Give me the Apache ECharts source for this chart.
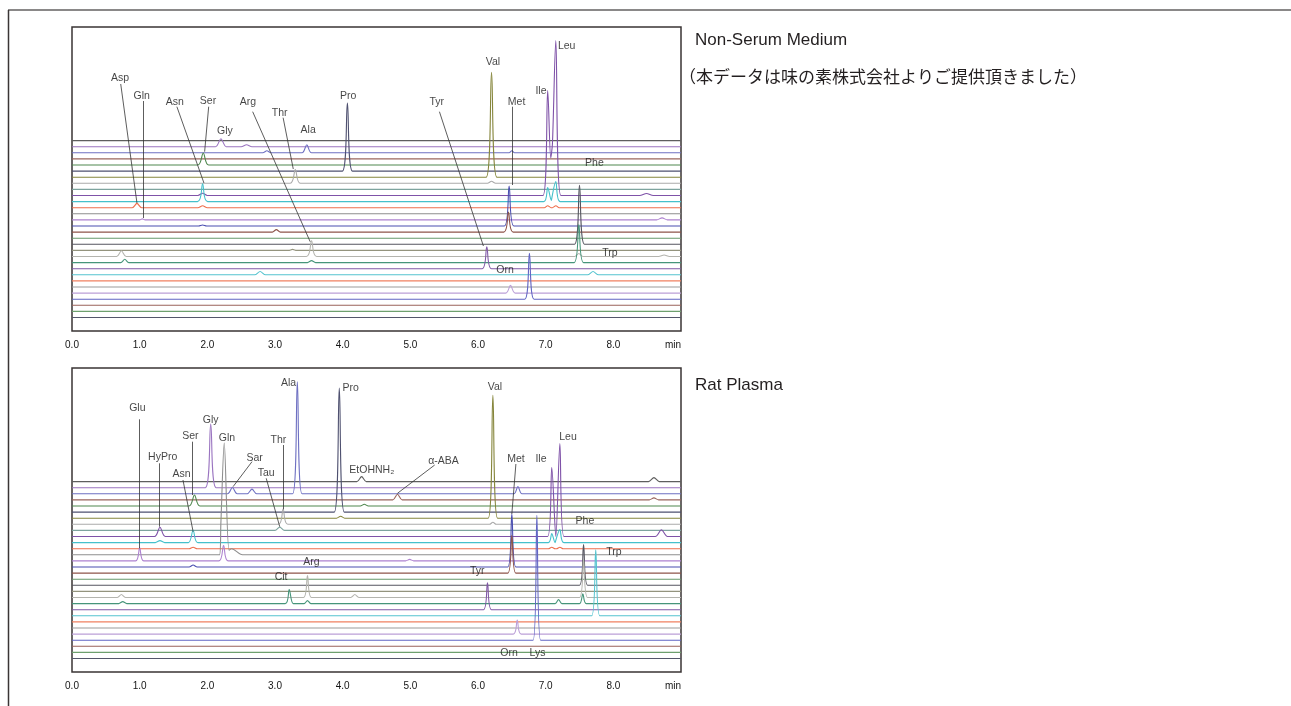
<!DOCTYPE html>
<html>
<head>
<meta charset="utf-8">
<script src="https://cdn.jsdelivr.net/npm/echarts@6/dist/echarts.min.js"></script>
<style>
  html, body { margin: 0; padding: 0; background: #fff; }
  #main { width: 1291px; height: 706px; }
</style>
</head>
<body>
<div id="main"></div>
<script>
// tick labels of the time axis (min)
var timeTicks = [0, 1, 2, 3, 4, 5, 6, 7, 8, 9];

// trace colours, top trace first (30 stacked chromatograms)
var traceColors = [
  '#5e5e5e', '#9a74c0', '#6e70c2', '#9a665e', '#4f884f', '#4f5170',
  '#86863c', '#aaaaaa', '#7ea49e', '#7f52a8', '#45c0cb', '#ee6e4c',
  '#8e8e8e', '#ae82d0', '#4a4eb0', '#8e544a', '#66986a', '#555560',
  '#94947e', '#b4b4ae', '#46957a', '#8058a6', '#55c4cf', '#f08060',
  '#9c9c9c', '#bca0d8', '#6266c4', '#9a625a', '#6ea06e', '#54566a'
];

// peaks: [trace (1 = top), retention time (min), height, half width (min)]
var mediumPeaks = [
  [2, 2.20, 8, 0.08], [2, 2.58, 2, 0.08],
  [3, 2.88, 2, 0.06], [3, 3.47, 8, 0.07], [3, 6.50, 2, 0.04],
  [5, 1.94, 12, 0.08],
  [6, 4.07, 68, 0.075],
  [7, 6.20, 105, 0.08],
  [8, 3.30, 13.7, 0.075], [8, 6.20, 2, 0.06],
  [10, 1.93, 2.3, 0.07], [10, 7.03, 105, 0.07], [10, 7.15, 155, 0.075], [10, 8.49, 2, 0.1],
  [11, 1.93, 17.7, 0.075], [11, 7.03, 14, 0.06], [11, 7.15, 20, 0.065],
  [12, 0.96, 4.3, 0.07], [12, 1.93, 2, 0.07], [12, 7.03, 2, 0.05], [12, 7.15, 2, 0.05],
  [14, 1.04, 1, 0.04], [14, 8.72, 2, 0.08],
  [15, 1.93, 1, 0.06], [15, 6.46, 40, 0.07],
  [16, 3.02, 2.5, 0.06], [16, 6.45, 20, 0.07],
  [18, 7.50, 59, 0.075],
  [19, 3.26, 1, 0.06],
  [20, 0.73, 5.7, 0.07], [20, 3.54, 15.7, 0.075], [20, 7.49, 3, 0.06], [20, 8.75, 1.5, 0.08],
  [21, 0.78, 3.3, 0.06], [21, 3.54, 2, 0.06], [21, 7.49, 38, 0.07],
  [22, 6.13, 22, 0.07],
  [23, 2.78, 3.3, 0.08], [23, 7.70, 3.3, 0.08],
  [26, 6.48, 7.7, 0.07],
  [27, 6.76, 46, 0.07]
];

var plasmaPeaks = [
  [1, 4.28, 5, 0.07], [1, 8.60, 4, 0.08],
  [2, 2.05, 63.7, 0.08],
  [3, 2.37, 6.3, 0.07], [3, 2.66, 4.7, 0.07], [3, 3.33, 112, 0.07], [3, 6.59, 7.3, 0.06],
  [4, 4.81, 5.7, 0.07], [4, 8.60, 2, 0.07],
  [5, 1.81, 11, 0.08], [5, 4.32, 1.7, 0.06],
  [6, 3.95, 124, 0.075],
  [7, 3.97, 2, 0.06], [7, 6.22, 123, 0.07],
  [8, 3.12, 15.3, 0.07], [8, 6.22, 2, 0.05],
  [9, 3.07, 3.3, 0.07],
  [10, 1.30, 9.3, 0.08], [10, 7.09, 69, 0.06], [10, 7.21, 93, 0.06], [10, 8.71, 6.7, 0.09],
  [11, 1.30, 2, 0.07], [11, 1.79, 12.3, 0.07], [11, 7.09, 9, 0.05], [11, 7.21, 13, 0.06],
  [12, 1.79, 1.5, 0.06], [12, 7.09, 1.5, 0.05], [12, 7.21, 1.5, 0.05],
  [13, 2.25, 110, 0.07], [13, 2.36, 6, 0.16],
  [14, 1.00, 13, 0.06], [14, 2.24, 15.3, 0.07], [14, 4.99, 1.5, 0.06],
  [15, 1.79, 2, 0.06], [15, 6.50, 53, 0.06],
  [16, 6.50, 37.7, 0.06],
  [18, 7.56, 40.7, 0.06],
  [20, 0.73, 3, 0.06], [20, 3.48, 22, 0.06], [20, 4.18, 3, 0.06], [20, 7.56, 38, 0.06],
  [21, 0.75, 2, 0.06], [21, 3.21, 14, 0.06], [21, 3.48, 3, 0.05], [21, 7.19, 4, 0.05], [21, 7.55, 9.7, 0.05],
  [22, 6.14, 27, 0.06],
  [23, 7.74, 66, 0.06],
  [26, 6.58, 14, 0.06],
  [27, 6.87, 125, 0.055]
];

// peak names: [name, time, signal]
var mediumNames = [
  ['Asp', 0.71, 239.5], ['Gln', 1.03, 221.5], ['Asn', 1.52, 215.5], ['Ser', 2.01, 216.5],
  ['Gly', 2.26, 186.8], ['Arg', 2.60, 215.8], ['Thr', 3.07, 204.8], ['Ala', 3.49, 187.5],
  ['Pro', 4.08, 221.5], ['Val', 6.22, 255.2], ['Tyr', 5.39, 215.2], ['Met', 6.57, 215.2],
  ['Ile', 6.93, 226.5], ['Leu', 7.31, 271.8], ['Phe', 7.72, 154.8], ['Trp', 7.95, 64.2],
  ['Orn', 6.40, 47.5]
];
var plasmaNames = [
  ['Glu', 0.965, 250.8], ['HyPro', 1.34, 201.8], ['Asn', 1.62, 184.2], ['Ser', 1.75, 222.5],
  ['Gly', 2.05, 238.5], ['Gln', 2.29, 220.8], ['Sar', 2.70, 200.2], ['Tau', 2.87, 185.2],
  ['Thr', 3.05, 218.5], ['Ala', 3.20, 275.2], ['Pro', 4.12, 270.2], ['EtOHNH\u2082', 4.43, 188.5],
  ['Cit', 3.09, 81.8], ['Arg', 3.54, 96.2], ['\u03b1-ABA', 5.49, 197.5], ['Val', 6.25, 271.8],
  ['Met', 6.56, 199.5], ['Ile', 6.93, 199.5], ['Leu', 7.33, 221.2], ['Phe', 7.58, 137.5],
  ['Trp', 8.01, 106.8], ['Tyr', 5.99, 87.8], ['Orn', 6.46, 5.2], ['Lys', 6.88, 5.2]
];

// leader lines: [time1, signal1, time2, signal2]
var mediumLeaders = [
  [0.72, 233.5, 0.96, 114.5], [1.05, 216.5, 1.05, 99.5], [1.55, 210.8, 1.95, 134.5],
  [2.02, 210.8, 1.96, 165.8], [2.67, 205.8, 3.52, 75.8], [3.12, 199.8, 3.27, 148.5],
  [5.43, 205.8, 6.08, 71.5], [6.50, 210.8, 6.50, 132.5]
];
var plasmaLeaders = [
  [1.00, 239.2, 1.00, 110.2], [1.29, 195.2, 1.29, 131.8], [1.64, 178.5, 1.79, 126.8],
  [1.78, 216.8, 1.78, 163.5], [2.66, 196.8, 2.38, 171.8], [2.87, 180.2, 3.07, 131.8],
  [3.12, 213.5, 3.12, 149.2], [5.36, 193.5, 4.81, 165.2], [6.56, 194.5, 6.50, 144.5]
];

var traceCount = traceColors.length;
var traceGap = 6.1;
var xMax = timeTicks[timeTicks.length - 1];
var font = "'Liberation Sans', Arial, sans-serif";

function traceData(peaks, k) {
  var own = peaks.filter(function (p) { return p[0] === k; });
  var xs = [0, xMax];
  own.forEach(function (p) { xs.push(p[1] - p[3], p[1], p[1] + p[3]); });
  xs.sort(function (a, b) { return a - b; });
  var base = (traceCount - k) * traceGap;
  return xs.map(function (x) {
    var y = base;
    own.forEach(function (p) {
      var d = Math.abs(x - p[1]);
      if (d < p[3]) y += p[2] * (1 - d / p[3]);
    });
    return [x, y];
  });
}

function panelSeries(idx, peaks, names, leaders) {
  var out = [];
  for (var k = 1; k <= traceCount; k++) {
    out.push({
      type: 'line', xAxisIndex: idx, yAxisIndex: idx,
      data: traceData(peaks, k), showSymbol: false, smooth: 0.3,
      lineStyle: { color: traceColors[k - 1], width: 1.1 },
      silent: true, animation: false
    });
  }
  out.push({
    type: 'lines', coordinateSystem: 'cartesian2d', xAxisIndex: idx, yAxisIndex: idx,
    data: leaders.map(function (l) { return { coords: [[l[0], l[1]], [l[2], l[3]]] }; }),
    lineStyle: { color: '#333', width: 0.8, opacity: 1 },
    silent: true, animation: false, z: 5
  });
  out.push({
    type: 'scatter', xAxisIndex: idx, yAxisIndex: idx,
    data: names.map(function (n) { return [n[1], n[2], n[0]]; }),
    symbolSize: 1, itemStyle: { color: 'rgba(0,0,0,0)' },
    label: {
      show: true, position: 'inside', color: '#141414', fontSize: 10.5, fontFamily: font,
      formatter: function (p) { return p.data[2]; }
    },
    silent: true, animation: false, z: 6
  });
  return out;
}

function timeAxis(idx) {
  return {
    type: 'value', gridIndex: idx, min: timeTicks[0], max: xMax, interval: 1,
    axisLine: { show: false }, axisTick: { show: false }, splitLine: { show: false },
    axisLabel: {
      margin: 9, color: '#141414', fontSize: 10, fontFamily: font,
      showMaxLabel: true, alignMaxLabel: 'right',
      formatter: function (v) { return v < xMax ? v.toFixed(1) : 'min'; }
    }
  };
}

var mychart = echarts.init(document.getElementById('main'));
mychart.setOption({
  animation: false,
  title: [
    { text: 'Non-Serum Medium', left: 695, top: 32, padding: 0, textStyle: { fontSize: 17, fontWeight: 'normal', color: '#231f20', fontFamily: font } },
    { text: '（本データは味の素株式会社よりご提供頂きました）', left: 679, top: 68, padding: 0, textStyle: { fontSize: 17, fontWeight: 'normal', color: '#231f20', fontFamily: "'Noto Sans CJK JP', sans-serif" } },
    { text: 'Rat Plasma', left: 695, top: 377, padding: 0, textStyle: { fontSize: 17, fontWeight: 'normal', color: '#231f20', fontFamily: font } }
  ],
  graphic: [
    { type: 'line', shape: { x1: 8, y1: 10, x2: 1291, y2: 10 }, style: { stroke: '#8a8888', lineWidth: 2 } },
    { type: 'line', shape: { x1: 8.5, y1: 10, x2: 8.5, y2: 706 }, style: { stroke: '#3a3535', lineWidth: 1.5 } }
  ],
  grid: [
    { left: 72, top: 27, width: 609, height: 304, show: true, borderColor: '#3a3434', borderWidth: 1.5 },
    { left: 72, top: 368, width: 609, height: 304, show: true, borderColor: '#3a3434', borderWidth: 1.5 }
  ],
  xAxis: [timeAxis(0), timeAxis(1)],
  yAxis: [
    { type: 'value', gridIndex: 0, min: -13.5, max: 290.5, show: false },
    { type: 'value', gridIndex: 1, min: -13.5, max: 290.5, show: false }
  ],
  series: panelSeries(0, mediumPeaks, mediumNames, mediumLeaders)
    .concat(panelSeries(1, plasmaPeaks, plasmaNames, plasmaLeaders))
});
</script>
</body>
</html>
